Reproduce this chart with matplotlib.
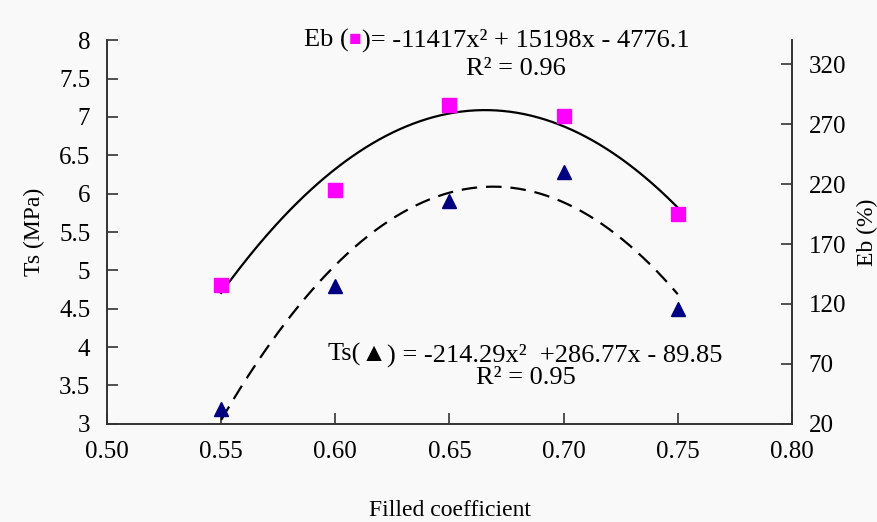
import numpy as np
import matplotlib
matplotlib.use('Agg')
import matplotlib.pyplot as plt

# data
filled = [0.55, 0.60, 0.65, 0.70, 0.75]
ts_vals = [3.2, 4.8, 5.9, 6.28, 4.5]          # MPa, left axis
eb_vals = [136, 215, 286, 277, 195]           # %, right axis

# trend line coefficients as printed on the chart
eb_coef = [-11417, 15198, -4776.1]
ts_coef = [-214.29, 286.77, -89.85]

x_ticks = [0.50, 0.55, 0.60, 0.65, 0.70, 0.75, 0.80]
ts_ticks = [3, 3.5, 4, 4.5, 5, 5.5, 6, 6.5, 7, 7.5, 8]
eb_ticks = [20, 70, 120, 170, 220, 270, 320]

serif = ['Liberation Serif', 'DejaVu Sans']
plt.rcParams['font.family'] = serif

bg = '#f9f9f9'
fig = plt.figure(figsize=(8.77, 5.22), dpi=100, facecolor=bg)
ax = fig.add_axes([0.122, 0.188, 0.781, 0.735])
ax.set_facecolor(bg)
ax2 = ax.twinx()

xs = np.linspace(0.55, 0.75, 200)
ax.plot(xs, np.polyval(ts_coef, xs), color='black', lw=1.6, dashes=(7, 4))
ax.plot(filled, ts_vals, linestyle='none', marker='^', ms=10.5, color='#000080')

ax2.plot(xs, np.polyval(eb_coef, xs), color='black', lw=1.6)
ax2.plot(filled, eb_vals, linestyle='none', marker='s', ms=10.5, color='#ff00ff')

ax.set_xlim(0.50, 0.80)
ax.set_ylim(3, 8)
ax2.set_ylim(20, 340)
ax.set_xticks(x_ticks)
ax.set_xticklabels(['%.2f' % v for v in x_ticks])
ax.set_yticks(ts_ticks)
ax.set_yticklabels(['%g' % v for v in ts_ticks])
ax2.set_yticks(eb_ticks)

for a in (ax, ax2):
    a.spines['top'].set_visible(False)
    for s in a.spines.values():
        s.set_linewidth(1.2)
        s.set_color('#333333')
ax.tick_params(axis='both', direction='in', length=8, width=1.2, labelsize=18, pad=12, color='#333333')
ax2.tick_params(axis='y', direction='in', length=8, width=1.2, labelsize=18, pad=12, color='#333333')

ax.set_xlabel('Filled coefficient', fontsize=17, labelpad=27)
ax.set_ylabel('Ts (MPa)', fontsize=17, labelpad=10)
ax2.set_ylabel('Eb (%)', fontsize=17, labelpad=8)

# equation labels, built from pieces so the marker symbol gets its colour
fs = 19
t1 = ax.text(0.288, 1.0, 'Eb (', transform=ax.transAxes, fontsize=fs, va='center', ha='left')
t2 = ax.annotate('\u25a0', xy=(1, 0.5), xycoords=t1, va='center', ha='left',
                 fontsize=fs - 4, color='#ff00ff', family=serif)
t3 = ax.annotate(')= -11417x\u00b2 + 15198x - 4776.1', xy=(1, 0.5), xycoords=t2,
                 va='center', ha='left', fontsize=fs)
ax.text(0.597, 0.925, 'R\u00b2 = 0.96', transform=ax.transAxes, fontsize=fs, va='center', ha='center')

s1 = ax.text(0.322, 0.18, 'Ts(', transform=ax.transAxes, fontsize=fs, va='center', ha='left')
s2 = ax.annotate('\u25b2', xy=(1, 0.5), xycoords=s1, va='center', ha='left',
                 fontsize=fs, color='black', family=serif)
s3 = ax.annotate(') = -214.29x\u00b2  +286.77x - 89.85', xy=(1, 0.5), xycoords=s2,
                 va='center', ha='left', fontsize=fs)
ax.text(0.612, 0.12, 'R\u00b2 = 0.95', transform=ax.transAxes, fontsize=fs, va='center', ha='center')

fig.savefig('out.png', dpi=100, facecolor=bg)
